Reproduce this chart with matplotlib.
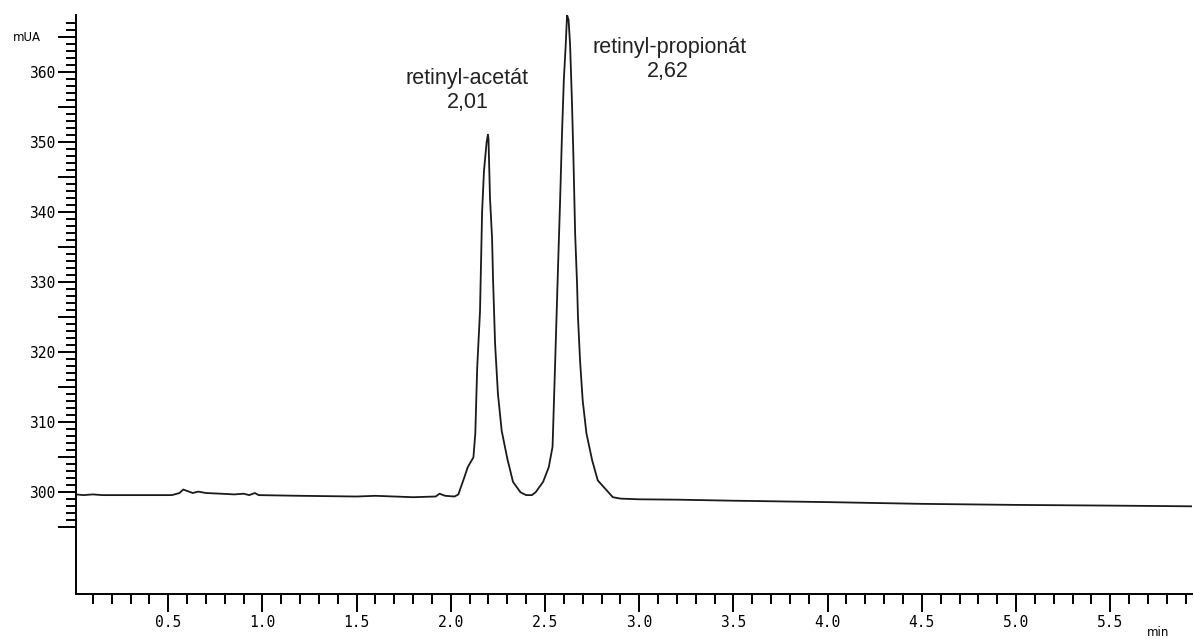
import matplotlib
matplotlib.use("Agg")
import matplotlib.pyplot as plt
import numpy as np

# ---- data ----
time_min = [0.01, 0.05, 0.10, 0.15, 0.20, 0.30, 0.40, 0.52, 0.56, 0.58, 0.60, 0.63,
            0.66, 0.70, 0.78, 0.85, 0.90, 0.93, 0.96, 0.98, 1.20, 1.50, 1.60, 1.80,
            1.92, 1.94, 1.97, 2.02, 2.04, 2.07, 2.09, 2.12, 2.13, 2.14, 2.155, 2.166,
            2.176, 2.19, 2.197, 2.20, 2.208, 2.219, 2.224, 2.235, 2.25, 2.27, 2.30,
            2.33, 2.37, 2.40, 2.43, 2.45, 2.49, 2.52, 2.54, 2.553, 2.57, 2.58, 2.59,
            2.60, 2.61, 2.617, 2.625, 2.633, 2.643, 2.65, 2.66, 2.67, 2.675, 2.686,
            2.70, 2.72, 2.75, 2.78, 2.82, 2.86, 2.90, 3.00, 3.20, 3.50, 4.00, 4.50,
            5.00, 5.50, 5.93]
signal_mau = [299.7, 299.6, 299.7, 299.6, 299.6, 299.6, 299.6, 299.6, 299.9, 300.4, 300.2, 299.9,
              300.1, 299.9, 299.8, 299.7, 299.8, 299.6, 299.9, 299.6, 299.5, 299.4, 299.5, 299.3,
              299.4, 299.8, 299.5, 299.4, 299.7, 302.0, 303.6, 305.0, 308.4, 317.8, 325.9, 340.0,
              345.9, 350.0, 351.1, 350.5, 342.0, 336.3, 330.6, 321.2, 314.1, 308.8, 304.8,
              301.5, 300.0, 299.6, 299.6, 300.0, 301.5, 303.6, 306.5, 317.8, 333.0, 341.6, 351.1,
              359.0, 364.0, 368.2, 367.5, 364.0, 355.8, 348.7, 336.9, 329.8, 325.0, 318.8,
              313.1, 308.4, 304.6, 301.7, 300.5, 299.3, 299.1, 299.0, 298.95, 298.8, 298.6, 298.35,
              298.2, 298.1, 298.0]

peak_names = ["retinyl-acetát", "retinyl-propionát"]
peak_rt_labels = ["2,01", "2,62"]

y_major_labeled = [300, 310, 320, 330, 340, 350, 360]
x_major = [0.5, 1.0, 1.5, 2.0, 2.5, 3.0, 3.5, 4.0, 4.5, 5.0, 5.5]

W, H = 1194, 639

# ---- figure ----
fig = plt.figure(figsize=(W / 100, H / 100), dpi=100)
ax = fig.add_axes([76 / W, 45 / H, 1116 / W, 579 / H])

ax.plot(time_min, signal_mau, color="#1a1a1a", lw=1.3)

ax.set_xlim(0.0106, 5.934)
ax.set_ylim(285.47, 368.2)

for s in ["top", "right"]:
    ax.spines[s].set_visible(False)
for s in ["left", "bottom"]:
    ax.spines[s].set_linewidth(1.4)
    ax.spines[s].set_color("black")

# y ticks: major every 5 (labels every 10), minor every 1
y_maj = list(range(295, 366, 5))
ax.set_yticks(y_maj)
ax.set_yticklabels([str(v) if v in y_major_labeled else "" for v in y_maj])
ax.set_yticks([v for v in range(295, 368) if v % 5 != 0], minor=True)

# x ticks
ax.set_xticks(x_major)
ax.set_xticklabels(["%.1f" % v for v in x_major])
x_minor = [round(0.1 * i, 1) for i in range(1, 60)]
ax.set_xticks([v for v in x_minor if v not in x_major], minor=True)

ax.tick_params(axis="both", which="major", length=13, width=1.4, direction="out",
               pad=2, labelsize=10.5)
ax.tick_params(axis="both", which="minor", length=7, width=1.4, direction="out")
for lab in ax.get_xticklabels() + ax.get_yticklabels():
    lab.set_fontfamily("DejaVu Sans Mono")

ax.text(-0.057, 365, "mUA", transform=ax.get_yaxis_transform(),
        fontsize=8.5, family="DejaVu Sans", ha="left", va="center")
fig.text(1158 / W, 1 - 633 / H, "min", fontsize=8.5, family="DejaVu Sans",
         ha="center", va="center")

# peak annotations (pixel positions of each text line)
name_pos = [(467, 84), (670, 53)]
rt_pos = [(468, 108), (668, 77)]
for name, rt, (nx, ny), (rx, ry) in zip(peak_names, peak_rt_labels, name_pos, rt_pos):
    fig.text(nx / W, 1 - ny / H, name, ha="center", va="baseline",
             fontsize=15.5, family="Liberation Sans", color="#222222")
    fig.text(rx / W, 1 - ry / H, rt, ha="center", va="baseline",
             fontsize=15.5, family="Liberation Sans", color="#222222")

fig.savefig("out.png", dpi=100)
